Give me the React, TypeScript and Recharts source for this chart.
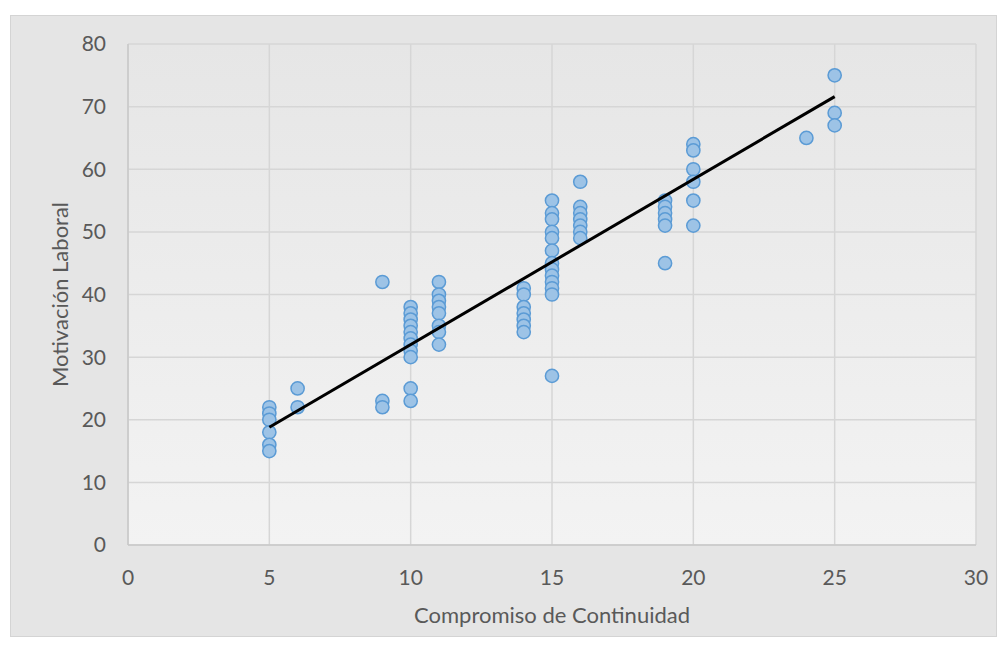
import React from "react";
import {
  ScatterChart,
  Scatter,
  XAxis,
  YAxis,
  CartesianGrid,
  Label,
} from "recharts";

// Compromiso de Continuidad (x) and Motivación Laboral (y), one entry per respondent
const compromiso = [
  5, 5, 5, 5, 5, 5,
  6, 6,
  9, 9, 9,
  10, 10, 10, 10, 10, 10, 10, 10, 10, 10, 10,
  11, 11, 11, 11, 11, 11, 11, 11,
  14, 14, 14, 14, 14, 14, 14,
  15, 15, 15, 15, 15, 15, 15, 15, 15, 15, 15, 15, 15,
  16, 16, 16, 16, 16, 16, 16,
  19, 19, 19, 19, 19, 19,
  20, 20, 20, 20, 20, 20,
  24,
  25, 25, 25,
];

const motivacion = [
  22, 21, 20, 18, 16, 15,
  25, 22,
  42, 23, 22,
  38, 37, 36, 35, 34, 33, 32, 31, 30, 25, 23,
  42, 40, 39, 38, 37, 35, 34, 32,
  41, 40, 38, 37, 36, 35, 34,
  55, 53, 52, 50, 49, 47, 45, 44, 43, 42, 41, 40, 27,
  58, 54, 53, 52, 51, 50, 49,
  55, 54, 53, 52, 51, 45,
  64, 63, 60, 58, 55, 51,
  65,
  75, 69, 67,
];

// linear trendline endpoints
const trendX = [5, 25];
const trendY = [18.8, 71.6];

const xTicks = [0, 5, 10, 15, 20, 25, 30];
const yTicks = [0, 10, 20, 30, 40, 50, 60, 70, 80];

const points = compromiso.map((x, i) => ({ x, y: motivacion[i] }));
const trend = trendX.map((x, i) => ({ x, y: trendY[i] }));

const FONT = "Lato, 'Open Sans', sans-serif";
const TEXT_COLOR = "#595959";
const TICK = { fill: TEXT_COLOR, fontSize: 21, fontFamily: FONT };

export default function App() {
  return (
    <div
      style={{
        position: "absolute",
        left: 0,
        top: 0,
        width: 1004,
        height: 650,
        background: "#ffffff",
        overflow: "hidden",
      }}
    >
      <div
        style={{
          position: "absolute",
          left: 10,
          top: 15,
          width: 987,
          height: 622,
          background: "#e5e5e5",
          border: "1px solid #d4d4d4",
          boxSizing: "border-box",
        }}
      >
        <ScatterChart
          width={985}
          height={620}
          margin={{ top: 28, right: 20, left: 0, bottom: 0 }}
        >
          <defs>
            <linearGradient id="plotBg" x1="0" y1="0" x2="0" y2="1">
              <stop offset="0%" stopColor="#e6e6e6" />
              <stop offset="100%" stopColor="#f3f3f3" />
            </linearGradient>
          </defs>
          <CartesianGrid
            stroke="#d6d6d6"
            strokeWidth={1.5}
            fill="url(#plotBg)"
            fillOpacity={1}
          />
          <XAxis
            type="number"
            dataKey="x"
            domain={[0, 30]}
            ticks={xTicks}
            height={91}
            tickSize={0}
            tickMargin={25}
            tick={TICK}
            axisLine={{ stroke: "#c8c8c8", strokeWidth: 1.5 }}
            allowDataOverflow
          >
            <Label
              value="Compromiso de Continuidad"
              position="insideBottom"
              offset={13}
              style={{ fill: TEXT_COLOR, fontSize: 22, fontFamily: FONT }}
            />
          </XAxis>
          <YAxis
            type="number"
            dataKey="y"
            domain={[0, 80]}
            ticks={yTicks}
            width={117}
            tickSize={0}
            tickMargin={22}
            tick={TICK}
            axisLine={{ stroke: "#c8c8c8", strokeWidth: 1.5 }}
            allowDataOverflow
          >
            <Label
              value="Motivación Laboral"
              angle={-90}
              position="insideLeft"
              offset={49}
              style={{
                fill: TEXT_COLOR,
                fontSize: 22,
                fontFamily: FONT,
                textAnchor: "middle",
              }}
            />
          </YAxis>
          <Scatter
            data={points}
            isAnimationActive={false}
            shape={(props: any) => (
              <circle
                cx={props.cx}
                cy={props.cy}
                r={6.6}
                fill="#9dc3e6"
                stroke="#5b9bd5"
                strokeWidth={1.5}
              />
            )}
          />
          <Scatter
            data={trend}
            isAnimationActive={false}
            line={{ stroke: "#000000", strokeWidth: 3 }}
            shape={() => <g />}
          />
        </ScatterChart>
      </div>
    </div>
  );
}
